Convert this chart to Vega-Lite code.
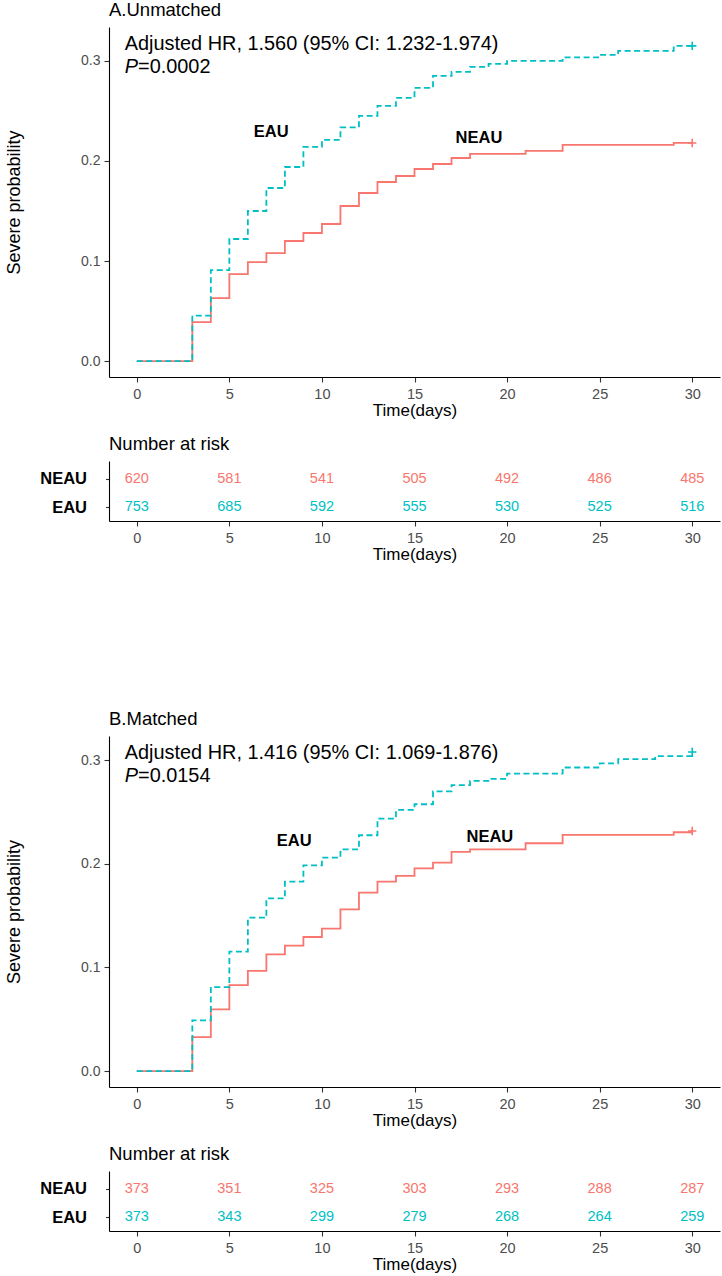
{
  "$schema": "https://vega.github.io/schema/vega-lite/v6.json",
  "background": "white",
  "padding": {"left": 5, "top": 1, "right": 5, "bottom": 5},
  "config": {
    "font": "Liberation Sans",
    "view": {"stroke": null},
    "axis": {
      "grid": false,
      "domainColor": "#000000",
      "domainWidth": 1.1,
      "tickColor": "#333333",
      "tickWidth": 1.1,
      "tickSize": 5,
      "labelColor": "#4D4D4D",
      "labelFontSize": 14.5,
      "labelPadding": 3,
      "titleFontSize": 17,
      "titleFontWeight": "normal",
      "titleColor": "#000000"
    },
    "axisX": {"labelPadding": 5.5, "titlePadding": 1},
    "title": {"fontWeight": "normal", "color": "#000000", "anchor": "start", "frame": "group", "fontSize": 18.5, "baseline": "alphabetic", "offset": 7.5}
  },
  "datasets": {
    "curves": [
      {"panel": "A", "group": "NEAU", "time": 0, "prob": 0},
      {"panel": "A", "group": "NEAU", "time": 3, "prob": 0.039},
      {"panel": "A", "group": "NEAU", "time": 4, "prob": 0.063},
      {"panel": "A", "group": "NEAU", "time": 5, "prob": 0.087},
      {"panel": "A", "group": "NEAU", "time": 6, "prob": 0.099},
      {"panel": "A", "group": "NEAU", "time": 7, "prob": 0.108},
      {"panel": "A", "group": "NEAU", "time": 8, "prob": 0.12},
      {"panel": "A", "group": "NEAU", "time": 9, "prob": 0.128},
      {"panel": "A", "group": "NEAU", "time": 10, "prob": 0.137},
      {"panel": "A", "group": "NEAU", "time": 11, "prob": 0.155},
      {"panel": "A", "group": "NEAU", "time": 12, "prob": 0.168},
      {"panel": "A", "group": "NEAU", "time": 13, "prob": 0.179},
      {"panel": "A", "group": "NEAU", "time": 14, "prob": 0.185},
      {"panel": "A", "group": "NEAU", "time": 15, "prob": 0.192},
      {"panel": "A", "group": "NEAU", "time": 16, "prob": 0.197},
      {"panel": "A", "group": "NEAU", "time": 17, "prob": 0.203},
      {"panel": "A", "group": "NEAU", "time": 18, "prob": 0.207},
      {"panel": "A", "group": "NEAU", "time": 21, "prob": 0.21},
      {"panel": "A", "group": "NEAU", "time": 23, "prob": 0.216},
      {"panel": "A", "group": "NEAU", "time": 29, "prob": 0.218},
      {"panel": "A", "group": "NEAU", "time": 30, "prob": 0.218},
      {"panel": "A", "group": "EAU", "time": 0, "prob": 0},
      {"panel": "A", "group": "EAU", "time": 3, "prob": 0.0455},
      {"panel": "A", "group": "EAU", "time": 4, "prob": 0.091},
      {"panel": "A", "group": "EAU", "time": 5, "prob": 0.122},
      {"panel": "A", "group": "EAU", "time": 6, "prob": 0.15},
      {"panel": "A", "group": "EAU", "time": 7, "prob": 0.173},
      {"panel": "A", "group": "EAU", "time": 8, "prob": 0.194},
      {"panel": "A", "group": "EAU", "time": 9, "prob": 0.214},
      {"panel": "A", "group": "EAU", "time": 10, "prob": 0.221},
      {"panel": "A", "group": "EAU", "time": 11, "prob": 0.2335},
      {"panel": "A", "group": "EAU", "time": 12, "prob": 0.245},
      {"panel": "A", "group": "EAU", "time": 13, "prob": 0.255},
      {"panel": "A", "group": "EAU", "time": 14, "prob": 0.263},
      {"panel": "A", "group": "EAU", "time": 15, "prob": 0.273},
      {"panel": "A", "group": "EAU", "time": 16, "prob": 0.285},
      {"panel": "A", "group": "EAU", "time": 17, "prob": 0.289},
      {"panel": "A", "group": "EAU", "time": 18, "prob": 0.294},
      {"panel": "A", "group": "EAU", "time": 19, "prob": 0.297},
      {"panel": "A", "group": "EAU", "time": 20, "prob": 0.3},
      {"panel": "A", "group": "EAU", "time": 23, "prob": 0.3035},
      {"panel": "A", "group": "EAU", "time": 25, "prob": 0.306},
      {"panel": "A", "group": "EAU", "time": 26, "prob": 0.31},
      {"panel": "A", "group": "EAU", "time": 29, "prob": 0.315},
      {"panel": "A", "group": "EAU", "time": 30, "prob": 0.315},
      {"panel": "B", "group": "NEAU", "time": 0, "prob": 0},
      {"panel": "B", "group": "NEAU", "time": 3, "prob": 0.0328},
      {"panel": "B", "group": "NEAU", "time": 4, "prob": 0.0595},
      {"panel": "B", "group": "NEAU", "time": 5, "prob": 0.083},
      {"panel": "B", "group": "NEAU", "time": 6, "prob": 0.0966},
      {"panel": "B", "group": "NEAU", "time": 7, "prob": 0.1127},
      {"panel": "B", "group": "NEAU", "time": 8, "prob": 0.121},
      {"panel": "B", "group": "NEAU", "time": 9, "prob": 0.1294},
      {"panel": "B", "group": "NEAU", "time": 10, "prob": 0.1374},
      {"panel": "B", "group": "NEAU", "time": 11, "prob": 0.156},
      {"panel": "B", "group": "NEAU", "time": 12, "prob": 0.1722},
      {"panel": "B", "group": "NEAU", "time": 13, "prob": 0.1828},
      {"panel": "B", "group": "NEAU", "time": 14, "prob": 0.1883},
      {"panel": "B", "group": "NEAU", "time": 15, "prob": 0.1957},
      {"panel": "B", "group": "NEAU", "time": 16, "prob": 0.2012},
      {"panel": "B", "group": "NEAU", "time": 17, "prob": 0.2115},
      {"panel": "B", "group": "NEAU", "time": 18, "prob": 0.214},
      {"panel": "B", "group": "NEAU", "time": 21, "prob": 0.2199},
      {"panel": "B", "group": "NEAU", "time": 23, "prob": 0.2279},
      {"panel": "B", "group": "NEAU", "time": 29, "prob": 0.2305},
      {"panel": "B", "group": "NEAU", "time": 30, "prob": 0.2317},
      {"panel": "B", "group": "EAU", "time": 0, "prob": 0},
      {"panel": "B", "group": "EAU", "time": 3, "prob": 0.049},
      {"panel": "B", "group": "EAU", "time": 4, "prob": 0.0811},
      {"panel": "B", "group": "EAU", "time": 5, "prob": 0.1152},
      {"panel": "B", "group": "EAU", "time": 6, "prob": 0.148},
      {"panel": "B", "group": "EAU", "time": 7, "prob": 0.1667},
      {"panel": "B", "group": "EAU", "time": 8, "prob": 0.1828},
      {"panel": "B", "group": "EAU", "time": 9, "prob": 0.1986},
      {"panel": "B", "group": "EAU", "time": 10, "prob": 0.206},
      {"panel": "B", "group": "EAU", "time": 11, "prob": 0.214},
      {"panel": "B", "group": "EAU", "time": 12, "prob": 0.2276},
      {"panel": "B", "group": "EAU", "time": 13, "prob": 0.2436},
      {"panel": "B", "group": "EAU", "time": 14, "prob": 0.252},
      {"panel": "B", "group": "EAU", "time": 15, "prob": 0.2575},
      {"panel": "B", "group": "EAU", "time": 16, "prob": 0.27},
      {"panel": "B", "group": "EAU", "time": 17, "prob": 0.276},
      {"panel": "B", "group": "EAU", "time": 18, "prob": 0.28},
      {"panel": "B", "group": "EAU", "time": 19, "prob": 0.282},
      {"panel": "B", "group": "EAU", "time": 20, "prob": 0.287},
      {"panel": "B", "group": "EAU", "time": 23, "prob": 0.293},
      {"panel": "B", "group": "EAU", "time": 25, "prob": 0.297},
      {"panel": "B", "group": "EAU", "time": 26, "prob": 0.301},
      {"panel": "B", "group": "EAU", "time": 28, "prob": 0.304},
      {"panel": "B", "group": "EAU", "time": 30, "prob": 0.308}
    ],
    "risk": [
      {"panel": "A", "group": "NEAU", "time": 0, "n": 620},
      {"panel": "A", "group": "NEAU", "time": 5, "n": 581},
      {"panel": "A", "group": "NEAU", "time": 10, "n": 541},
      {"panel": "A", "group": "NEAU", "time": 15, "n": 505},
      {"panel": "A", "group": "NEAU", "time": 20, "n": 492},
      {"panel": "A", "group": "NEAU", "time": 25, "n": 486},
      {"panel": "A", "group": "NEAU", "time": 30, "n": 485},
      {"panel": "A", "group": "EAU", "time": 0, "n": 753},
      {"panel": "A", "group": "EAU", "time": 5, "n": 685},
      {"panel": "A", "group": "EAU", "time": 10, "n": 592},
      {"panel": "A", "group": "EAU", "time": 15, "n": 555},
      {"panel": "A", "group": "EAU", "time": 20, "n": 530},
      {"panel": "A", "group": "EAU", "time": 25, "n": 525},
      {"panel": "A", "group": "EAU", "time": 30, "n": 516},
      {"panel": "B", "group": "NEAU", "time": 0, "n": 373},
      {"panel": "B", "group": "NEAU", "time": 5, "n": 351},
      {"panel": "B", "group": "NEAU", "time": 10, "n": 325},
      {"panel": "B", "group": "NEAU", "time": 15, "n": 303},
      {"panel": "B", "group": "NEAU", "time": 20, "n": 293},
      {"panel": "B", "group": "NEAU", "time": 25, "n": 288},
      {"panel": "B", "group": "NEAU", "time": 30, "n": 287},
      {"panel": "B", "group": "EAU", "time": 0, "n": 373},
      {"panel": "B", "group": "EAU", "time": 5, "n": 343},
      {"panel": "B", "group": "EAU", "time": 10, "n": 299},
      {"panel": "B", "group": "EAU", "time": 15, "n": 279},
      {"panel": "B", "group": "EAU", "time": 20, "n": 268},
      {"panel": "B", "group": "EAU", "time": 25, "n": 264},
      {"panel": "B", "group": "EAU", "time": 30, "n": 259}
    ],
    "notes": [
      {"panel": "A", "hr": "Adjusted HR, 1.560 (95% CI: 1.232-1.974)", "p": "P", "pval": "=0.0002"},
      {"panel": "B", "hr": "Adjusted HR, 1.416 (95% CI: 1.069-1.876)", "p": "P", "pval": "=0.0154"}
    ]
  },
  "bounds": "flush",
  "spacing": 84,
  "vconcat": [
    {
      "width": 611,
      "height": 350,
      "title": {"text": "A.Unmatched"},
      "layer": [
        {"data": {"name": "curves"}, "transform": [{"filter": "datum.panel === 'A' && datum.group === 'NEAU'"}],
         "mark": {"type": "line", "interpolate": "step-after", "strokeWidth": 1.8},
         "encoding": {
           "x": {"field": "time", "type": "quantitative", "scale": {"domain": [-1.5, 31.5], "nice": false, "zero": false}, "axis": {"values": [0, 5, 10, 15, 20, 25, 30], "format": "d", "title": "Time(days)"}},
           "y": {"field": "prob", "type": "quantitative", "scale": {"domain": [-0.0159, 0.3339], "nice": false, "zero": false}, "axis": {"values": [0, 0.1, 0.2, 0.3], "format": ".1f", "labelFontSize": 14, "labelPadding": 4, "title": "Severe probability", "titleFontSize": 18, "titleX": -95, "titleY": 175, "titleBaseline": "middle"}},
           "color": {"field": "group", "type": "nominal", "scale": {"domain": ["NEAU", "EAU"], "range": ["#F8766D", "#00BFC4"]}, "legend": null}
         }},
        {"data": {"name": "curves"}, "transform": [{"filter": "datum.panel === 'A' && datum.group === 'EAU'"}],
         "mark": {"type": "line", "interpolate": "step-after", "strokeWidth": 1.8, "strokeDash": [6, 3.5]},
         "encoding": {
           "x": {"field": "time", "type": "quantitative"},
           "y": {"field": "prob", "type": "quantitative"},
           "color": {"field": "group", "type": "nominal", "legend": null}
         }},
        {"data": {"name": "curves"}, "transform": [{"filter": "datum.panel === 'A' && datum.time === 30"}],
         "mark": {"type": "point", "shape": "M-1,0L1,0M0,-1L0,1", "filled": false, "size": 70, "strokeWidth": 1.6, "opacity": 1},
         "encoding": {
           "x": {"field": "time", "type": "quantitative"},
           "y": {"field": "prob", "type": "quantitative"},
           "color": {"field": "group", "type": "nominal", "legend": null}
         }},
        {"data": {"name": "notes"}, "transform": [{"filter": "datum.panel === 'A'"}],
         "mark": {"type": "text", "align": "left", "baseline": "alphabetic", "fontSize": 19.9, "color": "#000000"},
         "encoding": {"x": {"datum": -0.65, "type": "quantitative"}, "y": {"datum": 0.311, "type": "quantitative"}, "text": {"field": "hr", "type": "nominal"}}},
        {"data": {"name": "notes"}, "transform": [{"filter": "datum.panel === 'A'"}],
         "mark": {"type": "text", "align": "left", "baseline": "alphabetic", "fontSize": 19.9, "fontStyle": "italic", "color": "#000000"},
         "encoding": {"x": {"datum": -0.65, "type": "quantitative"}, "y": {"datum": 0.288, "type": "quantitative"}, "text": {"field": "p", "type": "nominal"}}},
        {"data": {"name": "notes"}, "transform": [{"filter": "datum.panel === 'A'"}],
         "mark": {"type": "text", "align": "left", "baseline": "alphabetic", "fontSize": 19.9, "dx": 13.3, "color": "#000000"},
         "encoding": {"x": {"datum": -0.65, "type": "quantitative"}, "y": {"datum": 0.288, "type": "quantitative"}, "text": {"field": "pval", "type": "nominal"}}},
        {"data": {"name": "notes"}, "transform": [{"filter": "datum.panel === 'A'"}],
         "mark": {"type": "text", "align": "center", "baseline": "middle", "fontSize": 16.5, "fontWeight": "bold", "color": "#000000", "text": "EAU"},
         "encoding": {"x": {"datum": 7.26, "type": "quantitative"}, "y": {"datum": 0.2285, "type": "quantitative"}}},
        {"data": {"name": "notes"}, "transform": [{"filter": "datum.panel === 'A'"}],
         "mark": {"type": "text", "align": "center", "baseline": "middle", "fontSize": 16.5, "fontWeight": "bold", "color": "#000000", "text": "NEAU"},
         "encoding": {"x": {"datum": 18.48, "type": "quantitative"}, "y": {"datum": 0.2232, "type": "quantitative"}}}
      ]
    },
    {
      "width": 611,
      "height": 60,
      "title": {"text": "Number at risk"},
      "data": {"name": "risk"},
      "transform": [{"filter": "datum.panel === 'A'"}],
      "mark": {"type": "text", "fontSize": 14.5, "baseline": "middle", "align": "center"},
      "encoding": {
        "x": {"field": "time", "type": "quantitative", "scale": {"domain": [-1.5, 31.5], "nice": false, "zero": false}, "axis": {"values": [0, 5, 10, 15, 20, 25, 30], "format": "d", "title": "Time(days)"}},
        "y": {"field": "group", "type": "nominal", "sort": ["NEAU", "EAU"], "scale": {"type": "point", "padding": 0.5714, "align": 0.5625}, "axis": {"title": null, "labelFontWeight": "bold", "labelFontSize": 16.5, "labelColor": "#000000", "labelPadding": 19, "tickSize": 3.5}},
        "text": {"field": "n"},
        "color": {"field": "group", "type": "nominal", "scale": {"domain": ["NEAU", "EAU"], "range": ["#F8766D", "#00BFC4"]}, "legend": null}
      }
    },
    {
      "width": 611,
      "height": 47,
      "data": {"values": []},
      "mark": "point",
      "encoding": {}
    },
    {
      "width": 611,
      "height": 351,
      "title": {"text": "B.Matched"},
      "layer": [
        {"data": {"name": "curves"}, "transform": [{"filter": "datum.panel === 'B' && datum.group === 'NEAU'"}],
         "mark": {"type": "line", "interpolate": "step-after", "strokeWidth": 1.8},
         "encoding": {
           "x": {"field": "time", "type": "quantitative", "scale": {"domain": [-1.5, 31.5], "nice": false, "zero": false}, "axis": {"values": [0, 5, 10, 15, 20, 25, 30], "format": "d", "title": "Time(days)"}},
           "y": {"field": "prob", "type": "quantitative", "scale": {"domain": [-0.0154, 0.3234], "nice": false, "zero": false}, "axis": {"values": [0, 0.1, 0.2, 0.3], "format": ".1f", "labelFontSize": 14, "labelPadding": 4, "title": "Severe probability", "titleFontSize": 18, "titleX": -95, "titleY": 175.5, "titleBaseline": "middle"}},
           "color": {"field": "group", "type": "nominal", "scale": {"domain": ["NEAU", "EAU"], "range": ["#F8766D", "#00BFC4"]}, "legend": null}
         }},
        {"data": {"name": "curves"}, "transform": [{"filter": "datum.panel === 'B' && datum.group === 'EAU'"}],
         "mark": {"type": "line", "interpolate": "step-after", "strokeWidth": 1.8, "strokeDash": [6, 3.5]},
         "encoding": {
           "x": {"field": "time", "type": "quantitative"},
           "y": {"field": "prob", "type": "quantitative"},
           "color": {"field": "group", "type": "nominal", "legend": null}
         }},
        {"data": {"name": "curves"}, "transform": [{"filter": "datum.panel === 'B' && datum.time === 30"}],
         "mark": {"type": "point", "shape": "M-1,0L1,0M0,-1L0,1", "filled": false, "size": 70, "strokeWidth": 1.6, "opacity": 1},
         "encoding": {
           "x": {"field": "time", "type": "quantitative"},
           "y": {"field": "prob", "type": "quantitative"},
           "color": {"field": "group", "type": "nominal", "legend": null}
         }},
        {"data": {"name": "notes"}, "transform": [{"filter": "datum.panel === 'B'"}],
         "mark": {"type": "text", "align": "left", "baseline": "alphabetic", "fontSize": 19.9, "color": "#000000"},
         "encoding": {"x": {"datum": -0.65, "type": "quantitative"}, "y": {"datum": 0.3016, "type": "quantitative"}, "text": {"field": "hr", "type": "nominal"}}},
        {"data": {"name": "notes"}, "transform": [{"filter": "datum.panel === 'B'"}],
         "mark": {"type": "text", "align": "left", "baseline": "alphabetic", "fontSize": 19.9, "fontStyle": "italic", "color": "#000000"},
         "encoding": {"x": {"datum": -0.65, "type": "quantitative"}, "y": {"datum": 0.2794, "type": "quantitative"}, "text": {"field": "p", "type": "nominal"}}},
        {"data": {"name": "notes"}, "transform": [{"filter": "datum.panel === 'B'"}],
         "mark": {"type": "text", "align": "left", "baseline": "alphabetic", "fontSize": 19.9, "dx": 13.3, "color": "#000000"},
         "encoding": {"x": {"datum": -0.65, "type": "quantitative"}, "y": {"datum": 0.2794, "type": "quantitative"}, "text": {"field": "pval", "type": "nominal"}}},
        {"data": {"name": "notes"}, "transform": [{"filter": "datum.panel === 'B'"}],
         "mark": {"type": "text", "align": "center", "baseline": "middle", "fontSize": 16.5, "fontWeight": "bold", "color": "#000000", "text": "EAU"},
         "encoding": {"x": {"datum": 8.5, "type": "quantitative"}, "y": {"datum": 0.222, "type": "quantitative"}}},
        {"data": {"name": "notes"}, "transform": [{"filter": "datum.panel === 'B'"}],
         "mark": {"type": "text", "align": "center", "baseline": "middle", "fontSize": 16.5, "fontWeight": "bold", "color": "#000000", "text": "NEAU"},
         "encoding": {"x": {"datum": 19.07, "type": "quantitative"}, "y": {"datum": 0.226, "type": "quantitative"}}}
      ]
    },
    {
      "width": 611,
      "height": 60,
      "title": {"text": "Number at risk"},
      "data": {"name": "risk"},
      "transform": [{"filter": "datum.panel === 'B'"}],
      "mark": {"type": "text", "fontSize": 14.5, "baseline": "middle", "align": "center"},
      "encoding": {
        "x": {"field": "time", "type": "quantitative", "scale": {"domain": [-1.5, 31.5], "nice": false, "zero": false}, "axis": {"values": [0, 5, 10, 15, 20, 25, 30], "format": "d", "title": "Time(days)"}},
        "y": {"field": "group", "type": "nominal", "sort": ["NEAU", "EAU"], "scale": {"type": "point", "padding": 0.5714, "align": 0.5625}, "axis": {"title": null, "labelFontWeight": "bold", "labelFontSize": 16.5, "labelColor": "#000000", "labelPadding": 19, "tickSize": 3.5}},
        "text": {"field": "n"},
        "color": {"field": "group", "type": "nominal", "scale": {"domain": ["NEAU", "EAU"], "range": ["#F8766D", "#00BFC4"]}, "legend": null}
      }
    }
  ]
}
